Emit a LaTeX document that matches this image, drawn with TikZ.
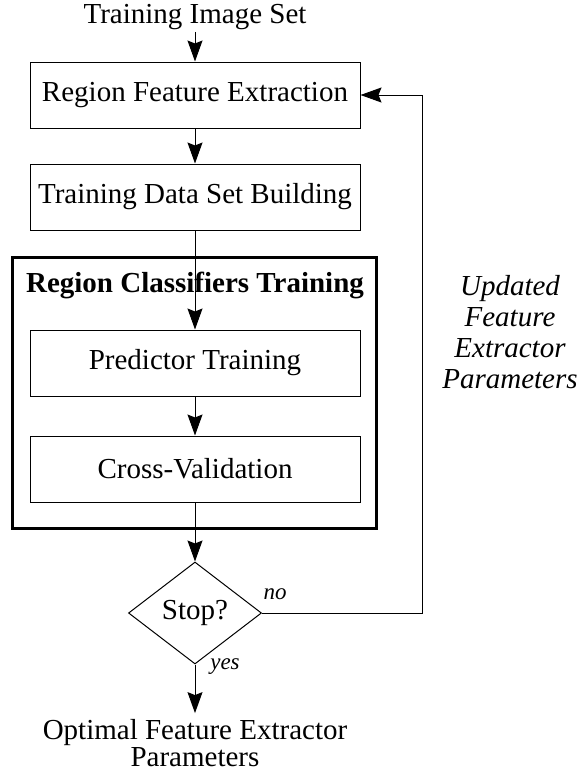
\documentclass[tikz,border=0pt]{standalone}
\usepackage{fontspec}
\setmainfont{Liberation Serif}
\usetikzlibrary{shapes.geometric,arrows.meta}
\begin{document}
\begin{tikzpicture}[x=1pt,y=-1pt,
		box/.style={draw, line width=1pt, minimum width=330pt, minimum height=66pt, inner sep=0pt},
		lbl/.style={font=\fontsize{29}{31}\selectfont},
		small/.style={font=\fontsize{23}{26}\selectfont\itshape},
		arr/.style={-{Stealth[length=21pt,width=15pt,inset=3pt]}, line width=1pt}]
	\useasboundingbox (0,0) rectangle (580,772);
				\node (input) at (195,17)    [lbl, inner sep=2pt] {Training Image Set};
				\node (rfe) at (195,95)      [box, lbl] {Region Feature Extraction};
				\node (tdsb) at (195,197)    [box, lbl] {Training Data Set Building};
				\node (rct) at (194.7,392.5) [draw, line width=3pt, minimum width=364pt, minimum height=271pt] {};
				\node (title) at (195,285)   [lbl, font=\fontsize{29}{31}\selectfont\bfseries] {Region Classifiers Training};
				\node (pred) at (195,363)    [box, lbl] {Predictor Training};
				\node (cv) at (195,469)      [box, lbl] {Cross-Validation};
				\node (stop) at (195,613)    [draw, diamond, line width=1pt, minimum width=133pt, minimum height=102pt, inner sep=0pt, lbl] {Stop?};
				\node (out) at (195,743)     [lbl, align=center, inner xsep=0pt, inner ysep=6pt, font=\fontsize{29}{27}\selectfont] {Optimal Feature Extractor\\Parameters};
				\node (upd) at (510,332)     [lbl, align=center, font=\fontsize{29}{31}\selectfont\itshape] {Updated\\Feature\\Extractor\\Parameters};
				\node (no) at (275,594)      [small] {no};
				\node (yes) at (225,667)     [small] {yes};
				\coordinate (fb) at (422,95);
				\draw[arr] (input.south) -- (rfe.north);
				\draw[arr] (rfe.south) -- (tdsb.north);
				\draw[arr] (tdsb.south) -- (pred.north);
				\draw[arr] (pred.south) -- (cv.north);
				\draw[arr] (cv.south) -- (stop.north);
				\draw[arr] (stop.south) -- (out.north);
				\draw[arr] (stop.east) -| (fb) -- (rfe.east);
			\end{tikzpicture}
\end{document}
